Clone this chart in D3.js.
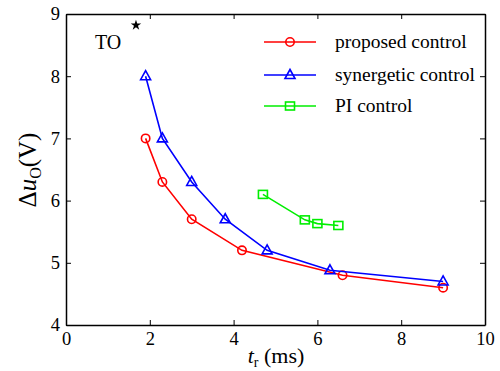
<!DOCTYPE html>
<html><head><meta charset="utf-8">
<script src="https://cdn.jsdelivr.net/npm/d3@7"></script>
<style>body{margin:0;background:#fff}</style>
</head><body><svg id="c" width="500" height="371" font-family="Liberation Serif, Times New Roman, serif"></svg>
<script>
const xTicks=[0,2,4,6,8,10];
const yTicks=[4,5,6,7,8,9];
const proposedX=[1.9,2.3,3.0,4.2,6.6,9.0];
const proposedY=[7.0,6.3,5.7,5.2,4.8,4.6];
const synergeticX=[1.9,2.3,3.0,3.8,4.8,6.3,9.0];
const synergeticY=[8.0,7.0,6.3,5.7,5.2,4.88,4.7];
const piX=[4.7,5.7,6.0,6.5];
const piY=[6.1,5.69,5.63,5.6];
const seriesNames=["proposed control","synergetic control","PI control"];
const toPoint=[1.67,8.82];

const svg=d3.select("#c");
const SERIF="Liberation Serif";
const L=66,R=485,T=14,B=325;
const x=d3.scaleLinear().domain([0,10]).range([L,R]);
const y=d3.scaleLinear().domain([4,9]).range([B,T]);

const series=[
 {name:seriesNames[0],xs:proposedX,ys:proposedY,color:"#ff0000",m:"circle"},
 {name:seriesNames[1],xs:synergeticX,ys:synergeticY,color:"#0000ff",m:"tri"},
 {name:seriesNames[2],xs:piX,ys:piY,color:"#00ee00",m:"sq"}
];
function marker(g,m,cx,cy,color){
  if(m==="circle") g.append("circle").attr("cx",cx).attr("cy",cy).attr("r",4.2).attr("fill","none").attr("stroke",color).attr("stroke-width",1.6);
  else if(m==="tri") g.append("path").attr("d",`M${cx},${cy-5.5}L${cx+5},${cy+3.5}L${cx-5},${cy+3.5}Z`).attr("fill","none").attr("stroke",color).attr("stroke-width",1.6);
  else g.append("rect").attr("x",cx-4.5).attr("y",cy-4).attr("width",9).attr("height",8).attr("fill","none").attr("stroke",color).attr("stroke-width",1.6);
}
const line=d3.line();
series.forEach(s=>{
  const pts=s.xs.map((v,i)=>[x(v),y(s.ys[i])]);
  svg.append("path").attr("d",line(pts)).attr("fill","none").attr("stroke",s.color).attr("stroke-width",1.6);
  pts.forEach(p=>marker(svg,s.m,p[0],p[1],s.color));
});

// axes
const fmt=d3.format("d");
const ax=svg.append("g").attr("transform",`translate(0,${B})`).call(d3.axisBottom(x).tickValues(xTicks).tickFormat(fmt).tickSizeInner(-5).tickSizeOuter(0).tickPadding(7));
const axT=svg.append("g").attr("transform",`translate(0,${T})`).call(d3.axisTop(x).tickValues(xTicks).tickSizeInner(-5).tickSizeOuter(0).tickFormat(""));
const ay=svg.append("g").attr("transform",`translate(${L},0)`).call(d3.axisLeft(y).tickValues(yTicks).tickFormat(fmt).tickSizeInner(-5).tickSizeOuter(0).tickPadding(6));
const ayR=svg.append("g").attr("transform",`translate(${R},0)`).call(d3.axisRight(y).tickValues(yTicks).tickSizeInner(-5).tickSizeOuter(0).tickFormat(""));
[ax,axT,ay,ayR].forEach(g=>{g.attr("font-family",SERIF).attr("font-size",18.5);g.select(".domain").attr("stroke","#000").attr("stroke-width",1.5);g.selectAll(".tick line").attr("stroke","#000");g.selectAll("text").attr("fill","#000");});

// legend
const lg=[42,75,106];
series.forEach((s,i)=>{
  svg.append("line").attr("x1",264).attr("x2",316).attr("y1",lg[i]).attr("y2",lg[i]).attr("stroke",s.color).attr("stroke-width",1.4);
  marker(svg,s.m,290,lg[i],s.color);
  svg.append("text").attr("x",335).attr("y",lg[i]+6).attr("font-family",SERIF).attr("font-size",19.5).text(s.name);
});

// TO
svg.append("text").attr("x",95).attr("y",49).attr("font-family",SERIF).attr("font-size",20).text("TO");
svg.append("path").attr("d",d3.symbol(d3.symbolStar,34)()).attr("transform",`translate(${x(toPoint[0])},${y(toPoint[1])})`).attr("fill","#000");

// axis labels
const xl=svg.append("text").attr("x",276).attr("y",363).attr("text-anchor","middle").attr("font-family",SERIF).attr("font-size",22);
xl.append("tspan").attr("font-style","italic").text("t");
xl.append("tspan").attr("font-size",14).attr("dy",4).text("r");
xl.append("tspan").attr("dy",-4).text(" (ms)");
const yl=svg.append("text").attr("transform","translate(36,170) rotate(-90)").attr("text-anchor","middle").attr("font-family",SERIF).attr("font-size",25);
yl.append("tspan").text("Δ");
yl.append("tspan").attr("font-style","italic").text("u");
yl.append("tspan").attr("font-size",16).attr("dy",5).text("O");
yl.append("tspan").attr("dy",-5).text("(V)");
</script></body></html>
